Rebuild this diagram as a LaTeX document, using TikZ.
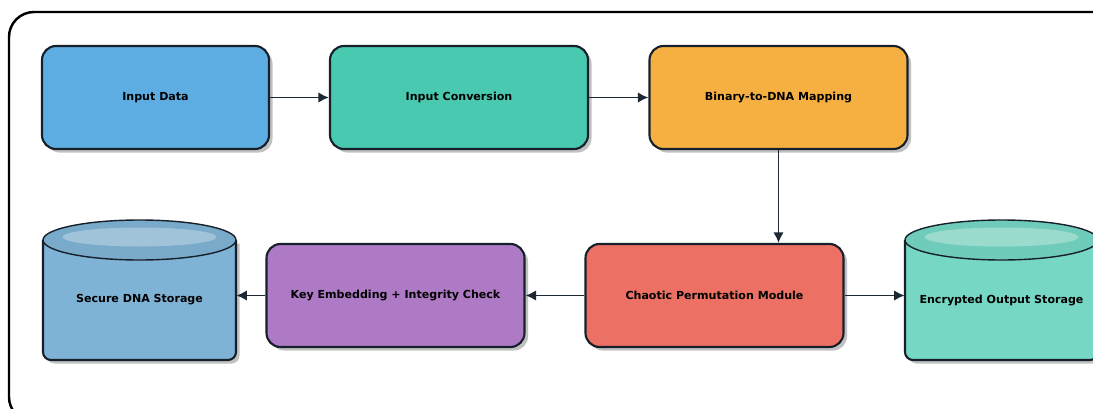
\documentclass[tikz,border=0pt]{standalone}
\usepackage{fontspec}
\setmainfont{DejaVu Sans}
\usetikzlibrary{arrows.meta,shadows}
\newdimen\pxu \pxu=0.02cm
\definecolor{cblue}{HTML}{5DADE2}
\definecolor{cteal}{HTML}{48C9B0}
\definecolor{corange}{HTML}{F5B041}
\definecolor{cpurple}{HTML}{AF7AC5}
\definecolor{cred}{HTML}{EC7063}
\definecolor{cylblue}{HTML}{7FB3D5}
\definecolor{cylteal}{HTML}{76D7C4}
\definecolor{arrowc}{HTML}{1C2833}
\definecolor{edge}{HTML}{17202A}
\tikzset{
  procbox/.style={draw=edge, line width=1.2pt, rounded corners=14\pxu,
    minimum height=103\pxu, align=center, font=\fontsize{6.3}{7.5}\selectfont\bfseries,
    drop shadow={shadow xshift=3.5\pxu, shadow yshift=-3.5\pxu, fill=black!30, opacity=0.8}},
  cylnode/.style={minimum width=193\pxu, minimum height=120\pxu, inner sep=0pt,
    font=\fontsize{6.3}{7.5}\selectfont\bfseries},
  flow/.style={draw=arrowc, line width=1.1pt, -{Latex[length=6pt,width=6pt]}},
}
\begin{document}
\begin{tikzpicture}[x=0.02cm, y=-0.02cm]
\useasboundingbox (0,0) rectangle (1093,409);
% outer frame
\draw[line width=1.4pt, rounded corners=25\pxu] (9,12) rectangle (1118,422);

% process boxes
\node[procbox, fill=cblue, minimum width=227\pxu] (in) at (155.5,97.5) {Input Data};
\node[procbox, fill=cteal, minimum width=258\pxu] (conv) at (459,97.5) {Input Conversion};
\node[procbox, fill=corange, minimum width=258\pxu] (map) at (778.5,97.5) {Binary-to-DNA Mapping};
\node[procbox, fill=cpurple, minimum width=258\pxu] (key) at (395.5,295.5) {Key Embedding + Integrity Check};
\node[procbox, fill=cred, minimum width=258\pxu] (chaos) at (714.5,295.5) {Chaotic Permutation Module};

% cylinders
\foreach \nm/\cx/\col in {sec/139.5/cylblue, enc/1001.5/cylteal}{
  % shadow
  \fill[black!30, opacity=0.8] (\cx-96.5+3.5,243.5) -- (\cx-96.5+3.5,360+3.5-8)
    arc[start angle=180,end angle=270,radius=8\pxu] -- (\cx+96.5+3.5-8,363.5)
    arc[start angle=270,end angle=360,radius=8\pxu] -- (\cx+96.5+3.5,243.5) -- cycle;
  % body
  \draw[draw=edge, line width=1.2pt, fill=\col] (\cx-96.5,240) -- (\cx-96.5,352)
    arc[start angle=180,end angle=270,radius=8\pxu] -- (\cx+96.5-8,360)
    arc[start angle=270,end angle=360,radius=8\pxu] -- (\cx+96.5,240);
  % top
  \draw[draw=edge, line width=0.8pt, fill=\col!95!black] (\cx,240) ellipse[x radius=96.5\pxu, y radius=20\pxu];
  \fill[white, opacity=0.3] (\cx,237) ellipse[x radius=77\pxu, y radius=9.5\pxu];
}
\node[cylnode] (sec) at (139.5,300) {Secure DNA Storage};
\node[cylnode] (enc) at (1001.5,300) {Encrypted Output Storage};

% connectors
\draw[flow] (in.east) -- (conv.west);
\draw[flow] (conv.east) -- (map.west);
\draw[flow] (map.south) -- (map.south |- chaos.north);
\draw[flow] (chaos.west) -- (key.east);
\draw[flow] (key.west) -- (key.west -| sec.east);
\draw[flow] (chaos.east) -- (chaos.east -| enc.west);
\end{tikzpicture}
\end{document}
